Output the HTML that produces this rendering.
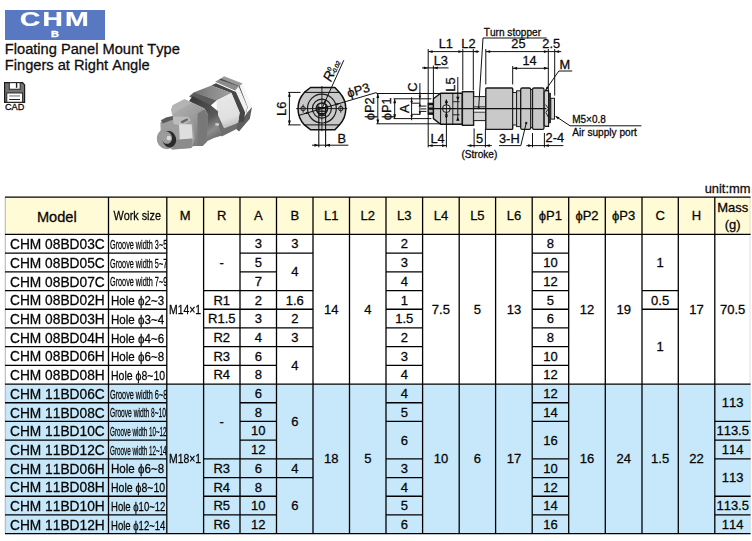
<!DOCTYPE html>
<html><head><meta charset="utf-8"><title>CHM B</title>
<style>
html,body{margin:0;padding:0;background:#fff;}
body{width:752px;height:541px;position:relative;overflow:hidden;font-family:"Liberation Sans",sans-serif;font-kerning:none;color:#050505;-webkit-text-stroke:0.28px #050505;}
.abs{position:absolute;}
.logo{position:absolute;left:5px;top:10px;width:100px;height:29.5px;background:#5878c2;}
.logo .t{position:absolute;left:0;top:-1.7px;width:100px;text-align:center;color:#fff;font-weight:bold;font-size:19.5px;line-height:22px;letter-spacing:1.3px;transform:scaleX(1.47);transform-origin:49.5px 0;-webkit-text-stroke:0.2px #fff;}
.logo .b{position:absolute;left:0;top:19.2px;width:100px;text-align:center;color:#fff;font-weight:bold;font-size:9px;line-height:10px;transform:scaleX(1.25);transform-origin:49.5px 0;-webkit-text-stroke:0.3px #fff;}
.title{position:absolute;left:4.8px;top:42.1px;font-size:14.65px;line-height:15.45px;color:#111;white-space:nowrap;}
.cad{position:absolute;left:5px;top:103.2px;font-size:9.1px;line-height:9px;}
.unit{position:absolute;right:1.5px;top:181.8px;font-size:12.9px;line-height:14px;color:#111;}
svg.tbl{position:absolute;left:0;top:0;}
svg.tbl line{stroke:#000;stroke-width:1.3;}
.c{position:absolute;display:flex;align-items:center;justify-content:center;white-space:nowrap;text-align:center;box-sizing:border-box;}
.c span{display:inline-block;}
.n{font-size:13px;padding-top:0.3px;}
.n.s span{transform:scaleX(1.0);}
.h{font-size:13px;padding-top:0;padding-bottom:0.6px;}
.h.hm{font-size:14.6px;padding-top:3px;padding-bottom:0;}
.h.hw{padding-top:0.4px;padding-bottom:0;}
.h.hw span{font-size:13.3px;transform:scaleX(0.815);}
.h.hmass{line-height:16.6px;padding-top:0;padding-bottom:0;}
.h.hmass span{position:relative;top:0.9px;}
.m{font-size:14.1px;padding-top:0.9px;justify-content:flex-start;}
.m span{transform:scaleX(0.975);transform-origin:0 50%;margin-left:4.9px;}
.w{font-size:13px;justify-content:flex-start;padding-top:1.6px;overflow:hidden;}
.w span{transform-origin:0 50%;margin-left:2px;}
.w.g span{transform:scaleX(0.555);}
.w.g2 span{transform:scaleX(0.535);}
.w.g3 span{transform:scaleX(0.505);}
.w.o span{transform:scaleX(0.90);}
.w.o2 span{transform:scaleX(0.83);}
.w.o3 span{transform:scaleX(0.76);}
.mm span{transform:scaleX(0.80);}
</style></head>
<body>
<div class="logo"><div class="t">CHM</div><div class="b">B</div></div>
<div class="title">Floating Panel Mount Type<br>Fingers at Right Angle</div>
<svg class="abs" style="left:3px;top:81px" width="24" height="24" viewBox="3 81 24 24">
<path d="M4.6 82.6 H22.6 L24.6 84.9 V102.4 H4.6 Z" fill="#727272" stroke="#1c1c1c" stroke-width="1.2" stroke-linejoin="miter"/>
<rect x="9.3" y="82.7" width="10.8" height="6.5" fill="#fff" stroke="#1c1c1c" stroke-width="0.9"/>
<rect x="15.9" y="82.9" width="1.4" height="4.9" fill="#222"/>
<rect x="6.8" y="93.0" width="15.8" height="9.2" fill="#fff" stroke="#1c1c1c" stroke-width="0.9"/>
<rect x="9.2" y="95.4" width="10.8" height="1.1" fill="#777"/>
<rect x="9.2" y="99.0" width="10.8" height="1.0" fill="#222"/>
</svg>
<div class="cad">CAD</div>
<div class="unit">unit:mm</div>
<svg class="abs" style="left:150px;top:66px" width="114" height="98" viewBox="0 0 629 541">
<defs>
<filter id="pb" x="-5%" y="-5%" width="110%" height="110%"><feGaussianBlur stdDeviation="4.2"/></filter>
<linearGradient id="gcyl" gradientUnits="userSpaceOnUse" x1="70" y1="290" x2="250" y2="440">
<stop offset="0" stop-color="#909090"/><stop offset="0.22" stop-color="#5e5e5e"/><stop offset="0.42" stop-color="#9c9c9c"/><stop offset="0.66" stop-color="#dadada"/><stop offset="0.85" stop-color="#9a9a9a"/><stop offset="1" stop-color="#6a6a6a"/>
</linearGradient>
<linearGradient id="gfl" gradientUnits="userSpaceOnUse" x1="130" y1="200" x2="320" y2="420">
<stop offset="0" stop-color="#b4b4b4"/><stop offset="0.45" stop-color="#9c9c9c"/><stop offset="1" stop-color="#767676"/>
</linearGradient>
<linearGradient id="gtop" gradientUnits="userSpaceOnUse" x1="240" y1="150" x2="450" y2="150">
<stop offset="0" stop-color="#6c6c6c"/><stop offset="0.45" stop-color="#888"/><stop offset="1" stop-color="#9e9e9e"/>
</linearGradient>
<linearGradient id="gmid" gradientUnits="userSpaceOnUse" x1="230" y1="180" x2="370" y2="400">
<stop offset="0" stop-color="#3a3a3a"/><stop offset="0.55" stop-color="#5a5a5a"/><stop offset="0.8" stop-color="#8c8c8c"/><stop offset="1" stop-color="#6a6a6a"/>
</linearGradient>
<linearGradient id="gbr" gradientUnits="userSpaceOnUse" x1="400" y1="160" x2="460" y2="330">
<stop offset="0" stop-color="#e8e8e8"/><stop offset="0.7" stop-color="#e0e0e0"/><stop offset="1" stop-color="#bcbcbc"/>
</linearGradient>
</defs>
<g filter="url(#pb)">
<g transform="translate(-11,-1)">
<polygon points="400,72 420,58 522,98 505,114" fill="#9a9a9a" />
<polygon points="505,114 522,98 574,226 562,258 548,226" fill="#f6f6f6" />
<polygon points="388,80 402,70 506,113 550,228 542,262 530,250 482,136" fill="#4c4c4c" />
<polygon points="370,88 392,76 500,113 480,136" fill="#8c8c8c" />
<polygon points="480,136 500,113 548,226 541,262 524,292 531,250" fill="#f0f0f0" />
<polygon points="492,305 524,292 548,258 574,228 562,292 502,362 480,342" fill="#5e5e5e" />
</g><g transform="translate(-6,7)">
<polygon points="345,100 370,88 480,136 531,250 524,300 492,306 500,250 455,142" fill="#464646" />
<polygon points="222,162 250,136 374,182 335,217" fill="#5c5c5c" />
<polygon points="250,138 345,100 456,142 373,183" fill="url(#gtop)" />
<polygon points="373,183 456,142 501,250 493,306 415,336 375,250" fill="url(#gbr)" />
<polygon points="375,250 415,336 493,306 481,342 402,382 372,312" fill="#6e6e6e" />
</g>
<polygon points="215,195 235,165 335,217 375,250 376,330 402,382 352,398 300,422 320,270 300,235" fill="url(#gmid)" />
<polygon points="362,314 382,318 380,330 360,328" fill="#cfcfcf" />
<polygon points="117,240 125,216 190,184 216,194 300,235 321,270 312,420 290,441 244,441 205,452 120,262" fill="url(#gfl)" />
<polygon points="117,240 125,216 190,184 232,202 150,250 124,268" fill="#b4b4b4" />
<polygon points="262,262 300,240 321,270 312,420 290,441 262,436" fill="#787878" />
<polygon points="57,312 85,290 125,277 211,280 240,314 248,400 230,452 120,462 60,390" fill="#9e9e9e" />
<polygon points="60,300 88,284 130,274 135,292 70,318" fill="#5a5a5a" />
<polygon points="125,277 211,280 225,300 180,330 130,320" fill="#bcbcbc" />
<polygon points="168,306 205,288 212,298 178,318" fill="#666" />
<polygon points="160,322 230,322 236,400 164,408" fill="#dedede" />
<polygon points="130,408 232,400 228,452 125,460" fill="#8c8c8c" />
<ellipse cx="92" cy="402" rx="55" ry="57" fill="#9a9a9a" transform="rotate(-15 92 402)"/>
<ellipse cx="106" cy="404" rx="38" ry="46" fill="#2a2a2a" transform="rotate(-15 106 404)"/>
<ellipse cx="92" cy="396" rx="29" ry="34" fill="#9c9c9c" transform="rotate(-15 92 396)"/>
<ellipse cx="104" cy="398" rx="13" ry="13" fill="#d8d8d8" transform="rotate(0 104 398)"/>
</g></svg>
<svg class="abs" style="left:0;top:0" width="752" height="180" viewBox="0 0 752 180" font-family="Liberation Sans, sans-serif" fill="#0a0a0a"><style>text{stroke:#0a0a0a;stroke-width:0.28px;-webkit-text-stroke:0;}</style>
<path d="M304.33,92.4 L310.5,87.5 L334.9,87.5 L339.47,92.4 A23.9,23.9 0 0 1 339.38,124.9 L334.9,129.7 L310.5,129.7 L304.42,124.9 A23.9,23.9 0 0 1 304.33,92.4 Z" fill="#c9c9c9" stroke="#111" stroke-width="1.5" stroke-linejoin="round"/>
<line x1="304.33" y1="92.40" x2="339.47" y2="92.40" stroke="#111" stroke-width="1.0"/>
<line x1="304.42" y1="124.90" x2="339.38" y2="124.90" stroke="#111" stroke-width="1.0"/>
<circle cx="321.90" cy="108.60" r="14.40" fill="none" stroke="#1a1a1a" stroke-width="1.2"/>
<circle cx="321.90" cy="108.60" r="9.50" fill="none" stroke="#1a1a1a" stroke-width="1.2"/>
<circle cx="321.90" cy="108.60" r="5.60" fill="#c4c4c4" stroke="#1a1a1a" stroke-width="1.7"/>
<rect x="318.60" y="105.00" width="6.6" height="2.6" fill="#e8e8e8"/>
<line x1="317.30" y1="107.60" x2="326.50" y2="107.60" stroke="#111" stroke-width="1.3"/>
<line x1="318.50" y1="111.20" x2="325.30" y2="111.20" stroke="#111" stroke-width="1.3"/>
<line x1="318.50" y1="113.60" x2="325.30" y2="113.60" stroke="#111" stroke-width="1.2"/>
<line x1="318.50" y1="115.60" x2="325.30" y2="115.60" stroke="#111" stroke-width="1.0"/>
<rect x="320.40" y="119.80" width="3.0" height="2.4" fill="#e6e6e6"/>
<circle cx="303.10" cy="108.60" r="2.20" fill="#dcdcdc" stroke="#1a1a1a" stroke-width="1.0"/>
<line x1="303.10" y1="104.40" x2="303.10" y2="112.80" stroke="#111" stroke-width="0.8"/>
<circle cx="340.80" cy="108.60" r="2.20" fill="#dcdcdc" stroke="#1a1a1a" stroke-width="1.0"/>
<line x1="340.80" y1="104.40" x2="340.80" y2="112.80" stroke="#111" stroke-width="0.8"/>
<line x1="296.10" y1="108.60" x2="347.20" y2="108.60" stroke="#111" stroke-width="0.9"/>
<line x1="321.90" y1="86.00" x2="321.90" y2="131.20" stroke="#111" stroke-width="0.9"/>
<line x1="318.80" y1="105.60" x2="318.80" y2="147.20" stroke="#111" stroke-width="1.1"/>
<line x1="325.60" y1="105.60" x2="325.60" y2="147.20" stroke="#111" stroke-width="1.1"/>
<line x1="312.00" y1="145.20" x2="348.40" y2="145.20" stroke="#111" stroke-width="1.0"/>
<polygon points="318.80,145.20 314.40,146.65 314.40,143.75" fill="#0c0c0c"/>
<polygon points="325.60,145.20 330.00,143.75 330.00,146.65" fill="#0c0c0c"/>
<text x="337.40" y="142.80" font-size="12.8" text-anchor="start">B</text>
<line x1="288.20" y1="92.40" x2="300.60" y2="92.40" stroke="#111" stroke-width="1.0"/>
<line x1="288.20" y1="124.90" x2="300.60" y2="124.90" stroke="#111" stroke-width="1.0"/>
<line x1="289.40" y1="92.40" x2="289.40" y2="124.90" stroke="#111" stroke-width="1.0"/>
<polygon points="289.40,92.40 290.85,96.80 287.95,96.80" fill="#0c0c0c"/>
<polygon points="289.40,124.90 287.95,120.50 290.85,120.50" fill="#0c0c0c"/>
<text x="286.40" y="108.80" font-size="12.8" text-anchor="middle" transform="rotate(-90 286.40 108.80)">L6</text>
<line x1="321.90" y1="108.60" x2="343.80" y2="60.20" stroke="#111" stroke-width="1.0"/>
<polygon points="325.94,99.67 325.55,103.45 323.36,102.46" fill="#0c0c0c"/>
<g transform="translate(331.0,82.6) rotate(-65.7)"><text x="0" y="0" font-size="13.6" font-style="italic">R</text><text x="10.2" y="-5.2" font-size="6" font-style="italic" stroke="#111" stroke-width="0.25">0</text><text x="9.0" y="0.4" font-size="6" font-style="italic" stroke="#111" stroke-width="0.25">-0.02</text></g>
<line x1="298.40" y1="115.52" x2="376.58" y2="92.51" stroke="#111" stroke-width="1.0"/>
<polygon points="340.03,103.26 336.72,105.49 336.05,103.19" fill="#0c0c0c"/>
<polygon points="303.77,113.94 307.08,111.71 307.75,114.01" fill="#0c0c0c"/>
<g transform="translate(348.6,97.8) rotate(-16.4)"><text x="0" y="0" font-size="12.8">ϕP3</text></g>
<line x1="376.40" y1="93.50" x2="440.60" y2="93.50" stroke="#111" stroke-width="1.0"/>
<line x1="376.40" y1="123.80" x2="440.60" y2="123.80" stroke="#111" stroke-width="1.0"/>
<line x1="377.80" y1="93.50" x2="377.80" y2="123.80" stroke="#111" stroke-width="1.0"/>
<polygon points="377.80,93.50 379.25,97.90 376.35,97.90" fill="#0c0c0c"/>
<polygon points="377.80,123.80 376.35,119.40 379.25,119.40" fill="#0c0c0c"/>
<text x="374.40" y="108.80" font-size="12.8" text-anchor="middle" transform="rotate(-90 374.40 108.80)">ϕP2</text>
<line x1="393.60" y1="98.80" x2="431.40" y2="98.80" stroke="#111" stroke-width="1.0"/>
<line x1="393.60" y1="118.60" x2="431.40" y2="118.60" stroke="#111" stroke-width="1.0"/>
<line x1="394.70" y1="98.80" x2="394.70" y2="118.60" stroke="#111" stroke-width="1.0"/>
<polygon points="394.70,98.80 396.15,103.20 393.25,103.20" fill="#0c0c0c"/>
<polygon points="394.70,118.60 393.25,114.20 396.15,114.20" fill="#0c0c0c"/>
<text x="391.40" y="108.80" font-size="12.8" text-anchor="middle" transform="rotate(-90 391.40 108.80)">ϕP1</text>
<line x1="411.60" y1="97.20" x2="411.60" y2="120.20" stroke="#111" stroke-width="1.0"/>
<polygon points="411.60,98.80 412.90,102.20 410.30,102.20" fill="#0c0c0c"/>
<polygon points="411.60,118.60 410.30,115.20 412.90,115.20" fill="#0c0c0c"/>
<text x="408.60" y="108.80" font-size="12.8" text-anchor="middle" transform="rotate(-90 408.60 108.80)">A</text>
<line x1="411.60" y1="103.20" x2="419.90" y2="103.20" stroke="#111" stroke-width="1.0"/>
<line x1="411.60" y1="114.30" x2="419.90" y2="114.30" stroke="#111" stroke-width="1.0"/>
<line x1="419.90" y1="83.20" x2="419.90" y2="115.00" stroke="#111" stroke-width="1.0"/>
<polygon points="419.90,98.80 418.60,95.40 421.20,95.40" fill="#0c0c0c"/>
<polygon points="419.90,103.20 421.20,106.40 418.60,106.40" fill="#0c0c0c"/>
<polygon points="419.90,114.50 418.60,111.30 421.20,111.30" fill="#0c0c0c"/>
<circle cx="419.90" cy="93.60" r="0.80" fill="#111" stroke="#1a1a1a" stroke-width="0.4"/>
<text x="417.00" y="87.20" font-size="12.8" text-anchor="middle" transform="rotate(-90 417.00 87.20)">C</text>
<line x1="420.80" y1="106.10" x2="426.40" y2="106.10" stroke="#111" stroke-width="1.0"/>
<line x1="420.80" y1="108.90" x2="426.40" y2="108.90" stroke="#111" stroke-width="1.0"/>
<line x1="420.80" y1="111.40" x2="426.40" y2="111.40" stroke="#111" stroke-width="1.0"/>
<rect x="428.20" y="103.20" width="5.20" height="11.10" rx="0" fill="#b4b4b4" stroke="#1a1a1a" stroke-width="1.0"/>
<line x1="428.20" y1="104.10" x2="433.40" y2="104.10" stroke="#111" stroke-width="2.0"/>
<line x1="428.20" y1="108.60" x2="433.40" y2="108.60" stroke="#111" stroke-width="2.2"/>
<line x1="428.20" y1="113.40" x2="433.40" y2="113.40" stroke="#111" stroke-width="2.0"/>
<path d="M433.4,98.8 L440.6,93.3 L462.3,93.3 L462.3,124.2 L440.6,124.2 L433.4,118.6 Z" fill="#c9c9c9" stroke="#111" stroke-width="1.4" stroke-linejoin="round"/>
<line x1="440.60" y1="93.30" x2="440.60" y2="124.20" stroke="#111" stroke-width="1.0"/>
<line x1="452.80" y1="93.30" x2="452.80" y2="124.20" stroke="#111" stroke-width="0.9"/>
<line x1="452.80" y1="101.70" x2="459.60" y2="101.70" stroke="#111" stroke-width="0.9"/>
<line x1="452.80" y1="114.80" x2="459.60" y2="114.80" stroke="#111" stroke-width="0.9"/>
<line x1="457.80" y1="77.00" x2="457.80" y2="120.60" stroke="#111" stroke-width="1.0"/>
<polygon points="457.80,100.40 456.10,96.80 459.50,96.80" fill="#0c0c0c"/>
<polygon points="457.80,117.10 459.50,120.70 456.10,120.70" fill="#0c0c0c"/>
<text x="455.00" y="84.60" font-size="12.8" text-anchor="middle" transform="rotate(-90 455.00 84.60)">L5</text>
<circle cx="446.40" cy="108.60" r="3.90" fill="#dedede" stroke="#1a1a1a" stroke-width="1.0"/>
<line x1="446.40" y1="99.60" x2="446.40" y2="118.60" stroke="#111" stroke-width="0.9"/>
<polygon points="446.40,99.20 447.90,102.40 444.90,102.40" fill="#0c0c0c"/>
<polygon points="446.40,118.90 444.90,115.70 447.90,115.70" fill="#0c0c0c"/>
<polygon points="446.40,104.70 444.80,101.70 448.00,101.70" fill="#0c0c0c"/>
<polygon points="446.40,112.50 448.00,115.50 444.80,115.50" fill="#0c0c0c"/>
<line x1="441.60" y1="108.60" x2="451.40" y2="108.60" stroke="#111" stroke-width="0.9"/>
<rect x="462.40" y="91.70" width="11.20" height="33.60" rx="0" fill="#c9c9c9" stroke="#1a1a1a" stroke-width="1.4"/>
<rect x="473.60" y="96.60" width="12.20" height="24.00" rx="0" fill="#d3d3d3" stroke="#1a1a1a" stroke-width="1.0"/>
<rect x="474.2" y="109.6" width="11.2" height="2.4" fill="#f4f4f4"/>
<line x1="473.60" y1="106.80" x2="485.80" y2="106.80" stroke="#111" stroke-width="0.8"/>
<line x1="473.60" y1="112.20" x2="485.80" y2="112.20" stroke="#111" stroke-width="0.8"/>
<rect x="485.80" y="88.00" width="26.90" height="41.40" rx="0.8" fill="#c9c9c9" stroke="#1a1a1a" stroke-width="1.4"/>
<rect x="512.70" y="92.50" width="3.90" height="32.50" rx="0" fill="#d3d3d3" stroke="#1a1a1a" stroke-width="1.0"/>
<rect x="516.60" y="90.80" width="4.10" height="35.80" rx="0" fill="#c9c9c9" stroke="#1a1a1a" stroke-width="1.0"/>
<rect x="520.70" y="88.00" width="10.00" height="41.40" rx="1.6" fill="#c9c9c9" stroke="#1a1a1a" stroke-width="1.3"/>
<rect x="530.70" y="89.60" width="1.80" height="38.20" rx="0" fill="#b5b5b5" stroke="#1a1a1a" stroke-width="0.6"/>
<rect x="532.50" y="88.00" width="11.50" height="41.40" rx="1.6" fill="#c9c9c9" stroke="#1a1a1a" stroke-width="1.3"/>
<path d="M544.2,92.0 L545.4,90.6 L548.6,90.6 L548.6,126.4 L545.4,126.4 L544.2,125.2 Z" fill="#d2d2d2" stroke="#111" stroke-width="1.1"/>
<rect x="548.90" y="93.20" width="1.60" height="29.60" rx="0" fill="#3a3a3a" stroke="#1a1a1a" stroke-width="0.8"/>
<rect x="550.80" y="98.30" width="3.70" height="20.80" rx="0" fill="#d6d6d6" stroke="#1a1a1a" stroke-width="1.0"/>
<path d="M545.6,104.6 L548.6,108.6 L545.6,112.6" fill="none" stroke="#111" stroke-width="0.9"/>
<line x1="546.20" y1="113.00" x2="548.40" y2="117.40" stroke="#111" stroke-width="0.9"/>
<line x1="428.20" y1="108.60" x2="546.40" y2="108.60" stroke="#111" stroke-width="1.4"/>
<circle cx="478.70" cy="108.00" r="0.90" fill="#111" stroke="#1a1a1a" stroke-width="0.5"/>
<line x1="428.20" y1="49.00" x2="428.20" y2="147.40" stroke="#111" stroke-width="1.0"/>
<line x1="433.40" y1="65.60" x2="433.40" y2="98.40" stroke="#111" stroke-width="1.0"/>
<line x1="462.80" y1="49.00" x2="462.80" y2="90.40" stroke="#111" stroke-width="1.0"/>
<line x1="473.30" y1="49.00" x2="473.30" y2="90.40" stroke="#111" stroke-width="1.0"/>
<line x1="485.80" y1="49.00" x2="485.80" y2="84.40" stroke="#111" stroke-width="1.0"/>
<line x1="512.70" y1="66.00" x2="512.70" y2="84.40" stroke="#111" stroke-width="1.0"/>
<line x1="548.30" y1="49.00" x2="548.30" y2="91.80" stroke="#111" stroke-width="1.0"/>
<line x1="554.70" y1="49.00" x2="554.70" y2="95.60" stroke="#111" stroke-width="1.0"/>
<line x1="428.20" y1="51.60" x2="479.20" y2="51.60" stroke="#111" stroke-width="1.0"/>
<polygon points="428.20,51.60 432.60,50.15 432.60,53.05" fill="#0c0c0c"/>
<polygon points="462.80,51.60 458.40,53.05 458.40,50.15" fill="#0c0c0c"/>
<polygon points="473.30,51.60 477.70,50.15 477.70,53.05" fill="#0c0c0c"/>
<line x1="485.80" y1="51.60" x2="561.20" y2="51.60" stroke="#111" stroke-width="1.0"/>
<polygon points="485.80,51.60 490.20,50.15 490.20,53.05" fill="#0c0c0c"/>
<polygon points="548.30,51.60 543.90,53.05 543.90,50.15" fill="#0c0c0c"/>
<polygon points="554.70,51.60 559.10,50.15 559.10,53.05" fill="#0c0c0c"/>
<text x="445.80" y="47.60" font-size="12.8" text-anchor="middle">L1</text>
<text x="468.40" y="47.60" font-size="12.8" text-anchor="middle">L2</text>
<text x="518.40" y="47.60" font-size="12.8" text-anchor="middle">25</text>
<text x="551.20" y="47.60" font-size="12.8" text-anchor="middle">2.5</text>
<line x1="512.70" y1="68.30" x2="548.30" y2="68.30" stroke="#111" stroke-width="1.0"/>
<polygon points="512.70,68.30 517.10,66.85 517.10,69.75" fill="#0c0c0c"/>
<polygon points="548.30,68.30 543.90,69.75 543.90,66.85" fill="#0c0c0c"/>
<text x="529.60" y="65.40" font-size="12.8" text-anchor="middle">14</text>
<line x1="422.00" y1="67.90" x2="448.60" y2="67.90" stroke="#111" stroke-width="1.0"/>
<polygon points="428.20,67.90 423.80,69.35 423.80,66.45" fill="#0c0c0c"/>
<polygon points="433.40,67.90 437.80,66.45 437.80,69.35" fill="#0c0c0c"/>
<text x="440.80" y="65.00" font-size="12.8" text-anchor="middle">L3</text>
<text x="483.80" y="36.00" font-size="10.1" text-anchor="start">Turn stopper</text>
<line x1="483.00" y1="38.00" x2="546.60" y2="38.00" stroke="#111" stroke-width="1.0"/>
<line x1="483.00" y1="38.00" x2="478.70" y2="107.60" stroke="#111" stroke-width="1.0"/>
<text x="559.40" y="68.80" font-size="12.8" text-anchor="start">M</text>
<line x1="558.80" y1="71.00" x2="572.20" y2="71.00" stroke="#111" stroke-width="1.0"/>
<line x1="558.80" y1="71.00" x2="545.80" y2="89.80" stroke="#111" stroke-width="1.0"/>
<polygon points="545.30,90.60 546.61,86.40 548.76,87.88" fill="#0c0c0c"/>
<text x="572.20" y="122.90" font-size="10.0" text-anchor="start">M5×0.8</text>
<line x1="570.00" y1="125.80" x2="641.40" y2="125.80" stroke="#111" stroke-width="1.0"/>
<line x1="570.00" y1="125.80" x2="555.80" y2="116.40" stroke="#111" stroke-width="1.0"/>
<polygon points="555.20,116.00 559.42,117.23 557.98,119.40" fill="#0c0c0c"/>
<text x="572.20" y="136.40" font-size="10.15" text-anchor="start">Air supply port</text>
<line x1="446.40" y1="118.80" x2="446.40" y2="147.40" stroke="#111" stroke-width="1.0"/>
<line x1="428.20" y1="145.60" x2="446.40" y2="145.60" stroke="#111" stroke-width="1.0"/>
<polygon points="428.20,145.60 432.60,144.15 432.60,147.05" fill="#0c0c0c"/>
<polygon points="446.40,145.60 442.00,147.05 442.00,144.15" fill="#0c0c0c"/>
<text x="437.60" y="142.80" font-size="12.8" text-anchor="middle">L4</text>
<line x1="474.10" y1="128.40" x2="474.10" y2="147.40" stroke="#111" stroke-width="1.0"/>
<line x1="485.40" y1="128.40" x2="485.40" y2="147.40" stroke="#111" stroke-width="1.0"/>
<line x1="467.40" y1="145.60" x2="491.80" y2="145.60" stroke="#111" stroke-width="1.0"/>
<polygon points="474.10,145.60 469.70,147.05 469.70,144.15" fill="#0c0c0c"/>
<polygon points="485.40,145.60 489.80,144.15 489.80,147.05" fill="#0c0c0c"/>
<text x="479.60" y="142.60" font-size="12.8" text-anchor="middle">5</text>
<text x="479.40" y="157.80" font-size="10.1" text-anchor="middle">(Stroke)</text>
<text x="499.00" y="143.40" font-size="12.8" text-anchor="start">3-H</text>
<line x1="499.00" y1="145.60" x2="520.80" y2="145.60" stroke="#111" stroke-width="1.0"/>
<line x1="520.80" y1="145.60" x2="526.20" y2="123.20" stroke="#111" stroke-width="1.0"/>
<circle cx="526.20" cy="123.00" r="1.00" fill="#111" stroke="#1a1a1a" stroke-width="0.5"/>
<line x1="532.50" y1="133.00" x2="532.50" y2="147.40" stroke="#111" stroke-width="1.0"/>
<line x1="544.40" y1="133.00" x2="544.40" y2="147.40" stroke="#111" stroke-width="1.0"/>
<line x1="526.40" y1="145.60" x2="563.40" y2="145.60" stroke="#111" stroke-width="1.0"/>
<polygon points="532.50,145.60 528.10,147.05 528.10,144.15" fill="#0c0c0c"/>
<polygon points="544.40,145.60 548.80,144.15 548.80,147.05" fill="#0c0c0c"/>
<text x="545.60" y="142.20" font-size="12.8" text-anchor="start">2-4</text>
</svg>
<svg class="tbl" width="752" height="541" viewBox="0 0 752 541">
<rect x="5" y="197.1" width="745.6" height="37.349999999999994" fill="#fffbd6"/>
<rect x="5" y="384.04999999999995" width="745.6" height="149.60000000000002" fill="#c7e8fa"/>
<line x1="5.3" y1="197.1" x2="5.3" y2="533.65" style="stroke:#b8b8b8;stroke-width:1.1"/>
<line x1="750.0" y1="197.1" x2="750.0" y2="533.65" style="stroke:#d8d8d8;stroke-width:0.8"/>
<line x1="108.5" y1="197.1" x2="108.5" y2="533.65"/>
<line x1="166.8" y1="197.1" x2="166.8" y2="533.65"/>
<line x1="203.6" y1="197.1" x2="203.6" y2="533.65"/>
<line x1="240" y1="197.1" x2="240" y2="533.65"/>
<line x1="276.5" y1="197.1" x2="276.5" y2="533.65"/>
<line x1="313" y1="197.1" x2="313" y2="533.65"/>
<line x1="349.5" y1="197.1" x2="349.5" y2="533.65"/>
<line x1="386" y1="197.1" x2="386" y2="533.65"/>
<line x1="422.6" y1="197.1" x2="422.6" y2="533.65"/>
<line x1="459.2" y1="197.1" x2="459.2" y2="533.65"/>
<line x1="495.6" y1="197.1" x2="495.6" y2="533.65"/>
<line x1="532.2" y1="197.1" x2="532.2" y2="533.65"/>
<line x1="568.7" y1="197.1" x2="568.7" y2="533.65"/>
<line x1="605.3" y1="197.1" x2="605.3" y2="533.65"/>
<line x1="642" y1="197.1" x2="642" y2="533.65"/>
<line x1="678.3" y1="197.1" x2="678.3" y2="533.65"/>
<line x1="714.8" y1="197.1" x2="714.8" y2="533.65"/>
<line x1="5" y1="197.1" x2="750.6" y2="197.1"/>
<line x1="5" y1="234.45" x2="750.6" y2="234.45"/>
<line x1="5" y1="384.04999999999995" x2="750.6" y2="384.04999999999995"/>
<line x1="5" y1="533.65" x2="750.6" y2="533.65"/>
<line x1="5" y1="253.14999999999998" x2="108.5" y2="253.14999999999998"/>
<line x1="5" y1="271.84999999999997" x2="108.5" y2="271.84999999999997"/>
<line x1="5" y1="290.54999999999995" x2="108.5" y2="290.54999999999995"/>
<line x1="5" y1="309.25" x2="108.5" y2="309.25"/>
<line x1="5" y1="327.95" x2="108.5" y2="327.95"/>
<line x1="5" y1="346.65" x2="108.5" y2="346.65"/>
<line x1="5" y1="365.35" x2="108.5" y2="365.35"/>
<line x1="5" y1="402.75" x2="108.5" y2="402.75"/>
<line x1="5" y1="421.45" x2="108.5" y2="421.45"/>
<line x1="5" y1="440.15" x2="108.5" y2="440.15"/>
<line x1="5" y1="458.84999999999997" x2="108.5" y2="458.84999999999997"/>
<line x1="5" y1="477.54999999999995" x2="108.5" y2="477.54999999999995"/>
<line x1="5" y1="496.25" x2="108.5" y2="496.25"/>
<line x1="5" y1="514.95" x2="108.5" y2="514.95"/>
<line x1="108.5" y1="253.14999999999998" x2="166.8" y2="253.14999999999998"/>
<line x1="108.5" y1="271.84999999999997" x2="166.8" y2="271.84999999999997"/>
<line x1="108.5" y1="290.54999999999995" x2="166.8" y2="290.54999999999995"/>
<line x1="108.5" y1="309.25" x2="166.8" y2="309.25"/>
<line x1="108.5" y1="327.95" x2="166.8" y2="327.95"/>
<line x1="108.5" y1="346.65" x2="166.8" y2="346.65"/>
<line x1="108.5" y1="365.35" x2="166.8" y2="365.35"/>
<line x1="108.5" y1="402.75" x2="166.8" y2="402.75"/>
<line x1="108.5" y1="421.45" x2="166.8" y2="421.45"/>
<line x1="108.5" y1="440.15" x2="166.8" y2="440.15"/>
<line x1="108.5" y1="458.84999999999997" x2="166.8" y2="458.84999999999997"/>
<line x1="108.5" y1="477.54999999999995" x2="166.8" y2="477.54999999999995"/>
<line x1="108.5" y1="496.25" x2="166.8" y2="496.25"/>
<line x1="108.5" y1="514.95" x2="166.8" y2="514.95"/>
<line x1="240" y1="253.14999999999998" x2="276.5" y2="253.14999999999998"/>
<line x1="240" y1="271.84999999999997" x2="276.5" y2="271.84999999999997"/>
<line x1="240" y1="290.54999999999995" x2="276.5" y2="290.54999999999995"/>
<line x1="240" y1="309.25" x2="276.5" y2="309.25"/>
<line x1="240" y1="327.95" x2="276.5" y2="327.95"/>
<line x1="240" y1="346.65" x2="276.5" y2="346.65"/>
<line x1="240" y1="365.35" x2="276.5" y2="365.35"/>
<line x1="240" y1="402.75" x2="276.5" y2="402.75"/>
<line x1="240" y1="421.45" x2="276.5" y2="421.45"/>
<line x1="240" y1="440.15" x2="276.5" y2="440.15"/>
<line x1="240" y1="458.84999999999997" x2="276.5" y2="458.84999999999997"/>
<line x1="240" y1="477.54999999999995" x2="276.5" y2="477.54999999999995"/>
<line x1="240" y1="496.25" x2="276.5" y2="496.25"/>
<line x1="240" y1="514.95" x2="276.5" y2="514.95"/>
<line x1="203.6" y1="290.54999999999995" x2="240" y2="290.54999999999995"/>
<line x1="203.6" y1="309.25" x2="240" y2="309.25"/>
<line x1="203.6" y1="327.95" x2="240" y2="327.95"/>
<line x1="203.6" y1="346.65" x2="240" y2="346.65"/>
<line x1="203.6" y1="365.35" x2="240" y2="365.35"/>
<line x1="203.6" y1="458.84999999999997" x2="240" y2="458.84999999999997"/>
<line x1="203.6" y1="477.54999999999995" x2="240" y2="477.54999999999995"/>
<line x1="203.6" y1="496.25" x2="240" y2="496.25"/>
<line x1="203.6" y1="514.95" x2="240" y2="514.95"/>
<line x1="276.5" y1="253.14999999999998" x2="313" y2="253.14999999999998"/>
<line x1="276.5" y1="290.54999999999995" x2="313" y2="290.54999999999995"/>
<line x1="276.5" y1="309.25" x2="313" y2="309.25"/>
<line x1="276.5" y1="327.95" x2="313" y2="327.95"/>
<line x1="276.5" y1="346.65" x2="313" y2="346.65"/>
<line x1="276.5" y1="458.84999999999997" x2="313" y2="458.84999999999997"/>
<line x1="276.5" y1="477.54999999999995" x2="313" y2="477.54999999999995"/>
<line x1="386" y1="253.14999999999998" x2="422.6" y2="253.14999999999998"/>
<line x1="386" y1="271.84999999999997" x2="422.6" y2="271.84999999999997"/>
<line x1="386" y1="290.54999999999995" x2="422.6" y2="290.54999999999995"/>
<line x1="386" y1="309.25" x2="422.6" y2="309.25"/>
<line x1="386" y1="327.95" x2="422.6" y2="327.95"/>
<line x1="386" y1="346.65" x2="422.6" y2="346.65"/>
<line x1="386" y1="365.35" x2="422.6" y2="365.35"/>
<line x1="386" y1="402.75" x2="422.6" y2="402.75"/>
<line x1="386" y1="421.45" x2="422.6" y2="421.45"/>
<line x1="386" y1="458.84999999999997" x2="422.6" y2="458.84999999999997"/>
<line x1="386" y1="477.54999999999995" x2="422.6" y2="477.54999999999995"/>
<line x1="386" y1="496.25" x2="422.6" y2="496.25"/>
<line x1="386" y1="514.95" x2="422.6" y2="514.95"/>
<line x1="532.2" y1="253.14999999999998" x2="568.7" y2="253.14999999999998"/>
<line x1="532.2" y1="271.84999999999997" x2="568.7" y2="271.84999999999997"/>
<line x1="532.2" y1="290.54999999999995" x2="568.7" y2="290.54999999999995"/>
<line x1="532.2" y1="309.25" x2="568.7" y2="309.25"/>
<line x1="532.2" y1="327.95" x2="568.7" y2="327.95"/>
<line x1="532.2" y1="346.65" x2="568.7" y2="346.65"/>
<line x1="532.2" y1="365.35" x2="568.7" y2="365.35"/>
<line x1="532.2" y1="402.75" x2="568.7" y2="402.75"/>
<line x1="532.2" y1="421.45" x2="568.7" y2="421.45"/>
<line x1="532.2" y1="458.84999999999997" x2="568.7" y2="458.84999999999997"/>
<line x1="532.2" y1="477.54999999999995" x2="568.7" y2="477.54999999999995"/>
<line x1="532.2" y1="496.25" x2="568.7" y2="496.25"/>
<line x1="532.2" y1="514.95" x2="568.7" y2="514.95"/>
<line x1="642" y1="290.54999999999995" x2="678.3" y2="290.54999999999995"/>
<line x1="642" y1="309.25" x2="678.3" y2="309.25"/>
<line x1="714.8" y1="421.45" x2="750.6" y2="421.45"/>
<line x1="714.8" y1="440.15" x2="750.6" y2="440.15"/>
<line x1="714.8" y1="458.84999999999997" x2="750.6" y2="458.84999999999997"/>
<line x1="714.8" y1="496.25" x2="750.6" y2="496.25"/>
<line x1="714.8" y1="514.95" x2="750.6" y2="514.95"/>
</svg>
<div class="c h hm" style="left:5px;top:197.1px;width:103.5px;height:37.349999999999994px"><span>Model</span></div>
<div class="c h hw" style="left:108.5px;top:197.1px;width:58.30000000000001px;height:37.349999999999994px"><span>Work size</span></div>
<div class="c h" style="left:166.8px;top:197.1px;width:36.79999999999998px;height:37.349999999999994px"><span>M</span></div>
<div class="c h" style="left:203.6px;top:197.1px;width:36.400000000000006px;height:37.349999999999994px"><span>R</span></div>
<div class="c h" style="left:240px;top:197.1px;width:36.5px;height:37.349999999999994px"><span>A</span></div>
<div class="c h" style="left:276.5px;top:197.1px;width:36.5px;height:37.349999999999994px"><span>B</span></div>
<div class="c h" style="left:313px;top:197.1px;width:36.5px;height:37.349999999999994px"><span>L1</span></div>
<div class="c h" style="left:349.5px;top:197.1px;width:36.5px;height:37.349999999999994px"><span>L2</span></div>
<div class="c h" style="left:386px;top:197.1px;width:36.60000000000002px;height:37.349999999999994px"><span>L3</span></div>
<div class="c h" style="left:422.6px;top:197.1px;width:36.599999999999966px;height:37.349999999999994px"><span>L4</span></div>
<div class="c h" style="left:459.2px;top:197.1px;width:36.400000000000034px;height:37.349999999999994px"><span>L5</span></div>
<div class="c h" style="left:495.6px;top:197.1px;width:36.60000000000002px;height:37.349999999999994px"><span>L6</span></div>
<div class="c h" style="left:532.2px;top:197.1px;width:36.5px;height:37.349999999999994px"><span>ϕP1</span></div>
<div class="c h" style="left:568.7px;top:197.1px;width:36.59999999999991px;height:37.349999999999994px"><span>ϕP2</span></div>
<div class="c h" style="left:605.3px;top:197.1px;width:36.700000000000045px;height:37.349999999999994px"><span>ϕP3</span></div>
<div class="c h" style="left:642px;top:197.1px;width:36.299999999999955px;height:37.349999999999994px"><span>C</span></div>
<div class="c h" style="left:678.3px;top:197.1px;width:36.5px;height:37.349999999999994px"><span>H</span></div>
<div class="c h hmass" style="left:714.8px;top:197.1px;width:35.80000000000007px;height:37.349999999999994px"><span>Mass<br>(g)</span></div>
<div class="c m" style="left:5px;top:234.45px;width:103.5px;height:18.70px"><span>CHM 08BD03C</span></div>
<div class="c m" style="left:5px;top:253.15px;width:103.5px;height:18.70px"><span>CHM 08BD05C</span></div>
<div class="c m" style="left:5px;top:271.85px;width:103.5px;height:18.70px"><span>CHM 08BD07C</span></div>
<div class="c m" style="left:5px;top:290.55px;width:103.5px;height:18.70px"><span>CHM 08BD02H</span></div>
<div class="c m" style="left:5px;top:309.25px;width:103.5px;height:18.70px"><span>CHM 08BD03H</span></div>
<div class="c m" style="left:5px;top:327.95px;width:103.5px;height:18.70px"><span>CHM 08BD04H</span></div>
<div class="c m" style="left:5px;top:346.65px;width:103.5px;height:18.70px"><span>CHM 08BD06H</span></div>
<div class="c m" style="left:5px;top:365.35px;width:103.5px;height:18.70px"><span>CHM 08BD08H</span></div>
<div class="c m" style="left:5px;top:384.05px;width:103.5px;height:18.70px"><span>CHM 11BD06C</span></div>
<div class="c m" style="left:5px;top:402.75px;width:103.5px;height:18.70px"><span>CHM 11BD08C</span></div>
<div class="c m" style="left:5px;top:421.45px;width:103.5px;height:18.70px"><span>CHM 11BD10C</span></div>
<div class="c m" style="left:5px;top:440.15px;width:103.5px;height:18.70px"><span>CHM 11BD12C</span></div>
<div class="c m" style="left:5px;top:458.85px;width:103.5px;height:18.70px"><span>CHM 11BD06H</span></div>
<div class="c m" style="left:5px;top:477.55px;width:103.5px;height:18.70px"><span>CHM 11BD08H</span></div>
<div class="c m" style="left:5px;top:496.25px;width:103.5px;height:18.70px"><span>CHM 11BD10H</span></div>
<div class="c m" style="left:5px;top:514.95px;width:103.5px;height:18.70px"><span>CHM 11BD12H</span></div>
<div class="c w" style="left:108.5px;top:234.45px;width:58.3px;height:18.70px;font-size:13.0px"><span style="transform:scaleX(0.5594);margin-left:1.6px">Groove width 3~5</span></div>
<div class="c w" style="left:108.5px;top:253.15px;width:58.3px;height:18.70px;font-size:13.0px"><span style="transform:scaleX(0.5594);margin-left:1.6px">Groove width 5~7</span></div>
<div class="c w" style="left:108.5px;top:271.85px;width:58.3px;height:18.70px;font-size:13.0px"><span style="transform:scaleX(0.5594);margin-left:1.6px">Groove width 7~9</span></div>
<div class="c w" style="left:108.5px;top:290.55px;width:58.3px;height:18.70px;font-size:13.2px"><span style="transform:scaleX(0.8779);margin-left:2.0px">Hole ϕ2~3</span></div>
<div class="c w" style="left:108.5px;top:309.25px;width:58.3px;height:18.70px;font-size:13.2px"><span style="transform:scaleX(0.8779);margin-left:2.0px">Hole ϕ3~4</span></div>
<div class="c w" style="left:108.5px;top:327.95px;width:58.3px;height:18.70px;font-size:13.2px"><span style="transform:scaleX(0.8779);margin-left:2.0px">Hole ϕ4~6</span></div>
<div class="c w" style="left:108.5px;top:346.65px;width:58.3px;height:18.70px;font-size:13.2px"><span style="transform:scaleX(0.8779);margin-left:2.0px">Hole ϕ6~8</span></div>
<div class="c w" style="left:108.5px;top:365.35px;width:58.3px;height:18.70px;font-size:13.2px"><span style="transform:scaleX(0.7978);margin-left:2.0px">Hole ϕ8~10</span></div>
<div class="c w" style="left:108.5px;top:384.05px;width:58.3px;height:18.70px;font-size:13.0px"><span style="transform:scaleX(0.5594);margin-left:1.6px">Groove width 6~8</span></div>
<div class="c w" style="left:108.5px;top:402.75px;width:58.3px;height:18.70px;font-size:13.0px"><span style="transform:scaleX(0.5115);margin-left:1.6px">Groove width 8~10</span></div>
<div class="c w" style="left:108.5px;top:421.45px;width:58.3px;height:18.70px;font-size:13.0px"><span style="transform:scaleX(0.4850);margin-left:1.6px">Groove width 10~12</span></div>
<div class="c w" style="left:108.5px;top:440.15px;width:58.3px;height:18.70px;font-size:13.0px"><span style="transform:scaleX(0.4850);margin-left:1.6px">Groove width 12~14</span></div>
<div class="c w" style="left:108.5px;top:458.85px;width:58.3px;height:18.70px;font-size:13.2px"><span style="transform:scaleX(0.8779);margin-left:2.0px">Hole ϕ6~8</span></div>
<div class="c w" style="left:108.5px;top:477.55px;width:58.3px;height:18.70px;font-size:13.2px"><span style="transform:scaleX(0.7978);margin-left:2.0px">Hole ϕ8~10</span></div>
<div class="c w" style="left:108.5px;top:496.25px;width:58.3px;height:18.70px;font-size:13.2px"><span style="transform:scaleX(0.7227);margin-left:2.0px">Hole ϕ10~12</span></div>
<div class="c w" style="left:108.5px;top:514.95px;width:58.3px;height:18.70px;font-size:13.2px"><span style="transform:scaleX(0.7227);margin-left:2.0px">Hole ϕ12~14</span></div>
<div class="c n mm" style="left:166.8px;top:234.45px;width:36.79999999999998px;height:149.60px"><span>M14×1</span></div>
<div class="c n mm" style="left:166.8px;top:384.05px;width:36.79999999999998px;height:149.60px"><span>M18×1</span></div>
<div class="c n" style="left:203.6px;top:234.45px;width:36.400000000000006px;height:56.10px"><span>-</span></div>
<div class="c n" style="left:203.6px;top:290.55px;width:36.400000000000006px;height:18.70px"><span>R1</span></div>
<div class="c n" style="left:203.6px;top:309.25px;width:36.400000000000006px;height:18.70px"><span>R1.5</span></div>
<div class="c n" style="left:203.6px;top:327.95px;width:36.400000000000006px;height:18.70px"><span>R2</span></div>
<div class="c n" style="left:203.6px;top:346.65px;width:36.400000000000006px;height:18.70px"><span>R3</span></div>
<div class="c n" style="left:203.6px;top:365.35px;width:36.400000000000006px;height:18.70px"><span>R4</span></div>
<div class="c n" style="left:203.6px;top:384.05px;width:36.400000000000006px;height:74.80px"><span>-</span></div>
<div class="c n" style="left:203.6px;top:458.85px;width:36.400000000000006px;height:18.70px"><span>R3</span></div>
<div class="c n" style="left:203.6px;top:477.55px;width:36.400000000000006px;height:18.70px"><span>R4</span></div>
<div class="c n" style="left:203.6px;top:496.25px;width:36.400000000000006px;height:18.70px"><span>R5</span></div>
<div class="c n" style="left:203.6px;top:514.95px;width:36.400000000000006px;height:18.70px"><span>R6</span></div>
<div class="c n" style="left:240px;top:234.45px;width:36.5px;height:18.70px"><span>3</span></div>
<div class="c n" style="left:240px;top:253.15px;width:36.5px;height:18.70px"><span>5</span></div>
<div class="c n" style="left:240px;top:271.85px;width:36.5px;height:18.70px"><span>7</span></div>
<div class="c n" style="left:240px;top:290.55px;width:36.5px;height:18.70px"><span>2</span></div>
<div class="c n" style="left:240px;top:309.25px;width:36.5px;height:18.70px"><span>3</span></div>
<div class="c n" style="left:240px;top:327.95px;width:36.5px;height:18.70px"><span>4</span></div>
<div class="c n" style="left:240px;top:346.65px;width:36.5px;height:18.70px"><span>6</span></div>
<div class="c n" style="left:240px;top:365.35px;width:36.5px;height:18.70px"><span>8</span></div>
<div class="c n" style="left:240px;top:384.05px;width:36.5px;height:18.70px"><span>6</span></div>
<div class="c n" style="left:240px;top:402.75px;width:36.5px;height:18.70px"><span>8</span></div>
<div class="c n" style="left:240px;top:421.45px;width:36.5px;height:18.70px"><span>10</span></div>
<div class="c n" style="left:240px;top:440.15px;width:36.5px;height:18.70px"><span>12</span></div>
<div class="c n" style="left:240px;top:458.85px;width:36.5px;height:18.70px"><span>6</span></div>
<div class="c n" style="left:240px;top:477.55px;width:36.5px;height:18.70px"><span>8</span></div>
<div class="c n" style="left:240px;top:496.25px;width:36.5px;height:18.70px"><span>10</span></div>
<div class="c n" style="left:240px;top:514.95px;width:36.5px;height:18.70px"><span>12</span></div>
<div class="c n" style="left:276.5px;top:234.45px;width:36.5px;height:18.70px"><span>3</span></div>
<div class="c n" style="left:276.5px;top:253.15px;width:36.5px;height:37.40px"><span>4</span></div>
<div class="c n" style="left:276.5px;top:290.55px;width:36.5px;height:18.70px"><span>1.6</span></div>
<div class="c n" style="left:276.5px;top:309.25px;width:36.5px;height:18.70px"><span>2</span></div>
<div class="c n" style="left:276.5px;top:327.95px;width:36.5px;height:18.70px"><span>3</span></div>
<div class="c n" style="left:276.5px;top:346.65px;width:36.5px;height:37.40px"><span>4</span></div>
<div class="c n" style="left:276.5px;top:384.05px;width:36.5px;height:74.80px"><span>6</span></div>
<div class="c n" style="left:276.5px;top:458.85px;width:36.5px;height:18.70px"><span>4</span></div>
<div class="c n" style="left:276.5px;top:477.55px;width:36.5px;height:56.10px"><span>6</span></div>
<div class="c n" style="left:313px;top:234.45px;width:36.5px;height:149.60px"><span>14</span></div>
<div class="c n" style="left:313px;top:384.05px;width:36.5px;height:149.60px"><span>18</span></div>
<div class="c n" style="left:349.5px;top:234.45px;width:36.5px;height:149.60px"><span>4</span></div>
<div class="c n" style="left:349.5px;top:384.05px;width:36.5px;height:149.60px"><span>5</span></div>
<div class="c n" style="left:386px;top:234.45px;width:36.60000000000002px;height:18.70px"><span>2</span></div>
<div class="c n" style="left:386px;top:253.15px;width:36.60000000000002px;height:18.70px"><span>3</span></div>
<div class="c n" style="left:386px;top:271.85px;width:36.60000000000002px;height:18.70px"><span>4</span></div>
<div class="c n" style="left:386px;top:290.55px;width:36.60000000000002px;height:18.70px"><span>1</span></div>
<div class="c n" style="left:386px;top:309.25px;width:36.60000000000002px;height:18.70px"><span>1.5</span></div>
<div class="c n" style="left:386px;top:327.95px;width:36.60000000000002px;height:18.70px"><span>2</span></div>
<div class="c n" style="left:386px;top:346.65px;width:36.60000000000002px;height:18.70px"><span>3</span></div>
<div class="c n" style="left:386px;top:365.35px;width:36.60000000000002px;height:18.70px"><span>4</span></div>
<div class="c n" style="left:386px;top:384.05px;width:36.60000000000002px;height:18.70px"><span>4</span></div>
<div class="c n" style="left:386px;top:402.75px;width:36.60000000000002px;height:18.70px"><span>5</span></div>
<div class="c n" style="left:386px;top:421.45px;width:36.60000000000002px;height:37.40px"><span>6</span></div>
<div class="c n" style="left:386px;top:458.85px;width:36.60000000000002px;height:18.70px"><span>3</span></div>
<div class="c n" style="left:386px;top:477.55px;width:36.60000000000002px;height:18.70px"><span>4</span></div>
<div class="c n" style="left:386px;top:496.25px;width:36.60000000000002px;height:18.70px"><span>5</span></div>
<div class="c n" style="left:386px;top:514.95px;width:36.60000000000002px;height:18.70px"><span>6</span></div>
<div class="c n" style="left:422.6px;top:234.45px;width:36.599999999999966px;height:149.60px"><span>7.5</span></div>
<div class="c n" style="left:422.6px;top:384.05px;width:36.599999999999966px;height:149.60px"><span>10</span></div>
<div class="c n" style="left:459.2px;top:234.45px;width:36.400000000000034px;height:149.60px"><span>5</span></div>
<div class="c n" style="left:459.2px;top:384.05px;width:36.400000000000034px;height:149.60px"><span>6</span></div>
<div class="c n" style="left:495.6px;top:234.45px;width:36.60000000000002px;height:149.60px"><span>13</span></div>
<div class="c n" style="left:495.6px;top:384.05px;width:36.60000000000002px;height:149.60px"><span>17</span></div>
<div class="c n" style="left:532.2px;top:234.45px;width:36.5px;height:18.70px"><span>8</span></div>
<div class="c n" style="left:532.2px;top:253.15px;width:36.5px;height:18.70px"><span>10</span></div>
<div class="c n" style="left:532.2px;top:271.85px;width:36.5px;height:18.70px"><span>12</span></div>
<div class="c n" style="left:532.2px;top:290.55px;width:36.5px;height:18.70px"><span>5</span></div>
<div class="c n" style="left:532.2px;top:309.25px;width:36.5px;height:18.70px"><span>6</span></div>
<div class="c n" style="left:532.2px;top:327.95px;width:36.5px;height:18.70px"><span>8</span></div>
<div class="c n" style="left:532.2px;top:346.65px;width:36.5px;height:18.70px"><span>10</span></div>
<div class="c n" style="left:532.2px;top:365.35px;width:36.5px;height:18.70px"><span>12</span></div>
<div class="c n" style="left:532.2px;top:384.05px;width:36.5px;height:18.70px"><span>12</span></div>
<div class="c n" style="left:532.2px;top:402.75px;width:36.5px;height:18.70px"><span>14</span></div>
<div class="c n" style="left:532.2px;top:421.45px;width:36.5px;height:37.40px"><span>16</span></div>
<div class="c n" style="left:532.2px;top:458.85px;width:36.5px;height:18.70px"><span>10</span></div>
<div class="c n" style="left:532.2px;top:477.55px;width:36.5px;height:18.70px"><span>12</span></div>
<div class="c n" style="left:532.2px;top:496.25px;width:36.5px;height:18.70px"><span>14</span></div>
<div class="c n" style="left:532.2px;top:514.95px;width:36.5px;height:18.70px"><span>16</span></div>
<div class="c n" style="left:568.7px;top:234.45px;width:36.59999999999991px;height:149.60px"><span>12</span></div>
<div class="c n" style="left:568.7px;top:384.05px;width:36.59999999999991px;height:149.60px"><span>16</span></div>
<div class="c n" style="left:605.3px;top:234.45px;width:36.700000000000045px;height:149.60px"><span>19</span></div>
<div class="c n" style="left:605.3px;top:384.05px;width:36.700000000000045px;height:149.60px"><span>24</span></div>
<div class="c n" style="left:642px;top:234.45px;width:36.299999999999955px;height:56.10px"><span>1</span></div>
<div class="c n" style="left:642px;top:290.55px;width:36.299999999999955px;height:18.70px"><span>0.5</span></div>
<div class="c n" style="left:642px;top:309.25px;width:36.299999999999955px;height:74.80px"><span>1</span></div>
<div class="c n" style="left:642px;top:384.05px;width:36.299999999999955px;height:149.60px"><span>1.5</span></div>
<div class="c n" style="left:678.3px;top:234.45px;width:36.5px;height:149.60px"><span>17</span></div>
<div class="c n" style="left:678.3px;top:384.05px;width:36.5px;height:149.60px"><span>22</span></div>
<div class="c n" style="left:714.8px;top:234.45px;width:35.80000000000007px;height:149.60px"><span>70.5</span></div>
<div class="c n" style="left:714.8px;top:384.05px;width:35.80000000000007px;height:37.40px"><span>113</span></div>
<div class="c n s" style="left:714.8px;top:421.45px;width:35.80000000000007px;height:18.70px"><span>113.5</span></div>
<div class="c n" style="left:714.8px;top:440.15px;width:35.80000000000007px;height:18.70px"><span>114</span></div>
<div class="c n" style="left:714.8px;top:458.85px;width:35.80000000000007px;height:37.40px"><span>113</span></div>
<div class="c n s" style="left:714.8px;top:496.25px;width:35.80000000000007px;height:18.70px"><span>113.5</span></div>
<div class="c n" style="left:714.8px;top:514.95px;width:35.80000000000007px;height:18.70px"><span>114</span></div>
</body></html>
